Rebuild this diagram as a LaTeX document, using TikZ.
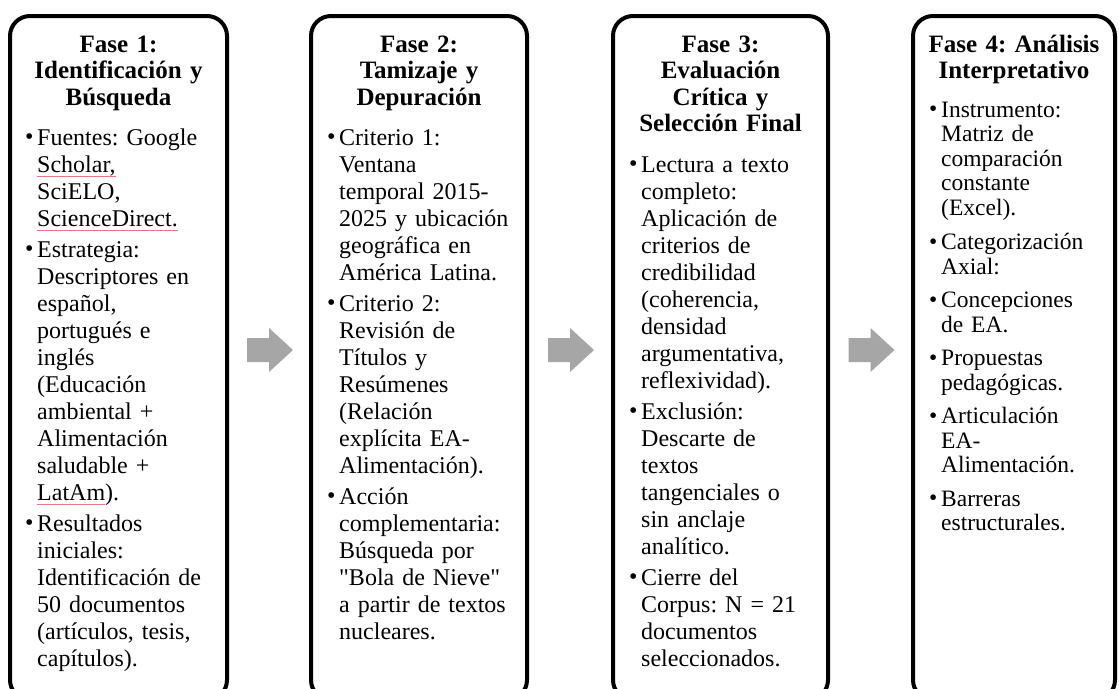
\documentclass[tikz,border=0pt]{standalone}
\usepackage{fontspec}
\setmainfont{Liberation Serif}
\newfontfamily\rawserif[Ligatures=ResetAll]{Liberation Serif}
\usetikzlibrary{calc}
\definecolor{arrowgray}{RGB}{166,166,166}
\definecolor{spellred}{RGB}{226,120,130}
\frenchspacing
\newcommand\spl[1]{\setbox0\hbox{#1}\rlap{\textcolor{spellred}{\rule[-4pt]{\wd0}{0.7pt}}}\box0}
\newcommand\bul{\makebox[12pt][l]{\raisebox{0.5pt}{\textbullet}}}
\newcommand\itm[1]{\par\hangindent=12pt\hangafter=1\noindent\bul#1\par}
\newcommand\dq{{\rawserif\symbol{34}}}
\tikzset{
  phase/.style={draw, line width=4pt, rounded corners=20pt, inner sep=0pt, minimum height=684pt},
  ttl/.style={anchor=north, inner sep=0pt, text width=#1, align=center,
    font=\frenchspacing\fontsize{25}{26.5}\selectfont\bfseries},
  body/.style={anchor=north west, inner sep=0pt, text width=#1, align=left,
    font=\frenchspacing\fontsize{24}{27}\selectfont},
  bodysmall/.style={anchor=north west, inner sep=0pt, text width=#1, align=left,
    font=\frenchspacing\fontsize{23.5}{24.5}\selectfont},
  arr/.style={fill=arrowgray, draw=none}
}
\begin{document}
\begin{tikzpicture}[x=1pt,y=-1pt]
\useasboundingbox (0,0) rectangle (1119,688);
\clip (0,0) rectangle (1119,688);

% boxes
\node[phase, minimum width=217pt] (b1) at (118.5,358) {};
\node[phase, minimum width=216pt] (b2) at (419,358) {};
\node[phase, minimum width=215pt] (b3) at (720.5,358) {};
\node[phase, minimum width=202pt] (b4) at (1014,358) {};

% titles
\node[ttl=205pt] (t1) at (118.5,33.5) {\strut Fase 1:\\Identificación y\\Búsqueda};
\node[ttl=205pt] (t2) at (419,33.5) {\strut Fase 2:\\Tamizaje y\\Depuración};
\node[ttl=205pt] (t3) at (720.5,33.5) {\strut Fase 3:\\Evaluación\\Crítica y\\Selección Final};
\node[ttl=195pt] (t4) at (1014,33.5) {\strut Fase 4: Análisis\\Interpretativo};

% bodies
\node[body=195pt] (c1) at (25,118) {%
\itm{\strut Fuentes: Google\newline \spl{Scholar,}\newline SciELO,\newline \spl{ScienceDirect.}}\vspace{4pt}
\itm{Estrategia:\newline Descriptores en\newline español,\newline portugués e\newline inglés\newline (Educación\newline ambiental +\newline Alimentación\newline saludable +\newline \spl{LatAm}).}\vspace{4pt}
\itm{Resultados\newline iniciales:\newline Identificación de\newline 50 documentos\newline (artículos, tesis,\newline capítulos).}};

\node[body=192pt] (c2) at (327,118) {%
\itm{\strut Criterio 1:\newline Ventana\newline temporal 2015-\newline 2025 y ubicación\newline geográfica en\newline América Latina.}\vspace{4pt}
\itm{Criterio 2:\newline Revisión de\newline Títulos y\newline Resúmenes\newline (Relación\newline explícita EA-\newline Alimentación).}\vspace{4pt}
\itm{Acción\newline complementaria:\newline Búsqueda por\newline \dq Bola de Nieve\dq\newline a partir de textos\newline nucleares.}};

\node[body=192pt] (c3) at (629,145) {%
\itm{\strut Lectura a texto\newline completo:\newline Aplicación de\newline criterios de\newline credibilidad\newline (coherencia,\newline densidad\newline argumentativa,\newline reflexividad).}\vspace{4pt}
\itm{Exclusión:\newline Descarte de\newline textos\newline tangenciales o\newline sin anclaje\newline analítico.}\vspace{4pt}
\itm{Cierre del\newline Corpus: N = 21\newline documentos\newline seleccionados.}};

\node[bodysmall=180pt] (c4) at (929,92.5) {%
\itm{\strut Instrumento:\newline Matriz de\newline comparación\newline constante\newline (Excel).}\vspace{10pt}
\itm{Categorización\newline Axial:}\vspace{9pt}
\itm{Concepciones\newline de EA.}\vspace{9pt}
\itm{Propuestas\newline pedagógicas.}\vspace{9pt}
\itm{Articulación\newline EA-\newline Alimentación.}\vspace{9pt}
\itm{Barreras\newline estructurales.}};

% block arrows between phases
\coordinate (m12) at ($(b1.east)!0.5!(b2.west)$);
\coordinate (m23) at ($(b2.east)!0.5!(b3.west)$);
\coordinate (m34) at ($(b3.east)!0.5!(b4.west)$);
\foreach \m in {m12,m23,m34}{
  \fill[arr, shift={(\m)}] (-22,-20) -- (0,-20) -- (0,-30) -- (24,-8) -- (0,14) -- (0,4) -- (-22,4) -- cycle;
}
\end{tikzpicture}
\end{document}
